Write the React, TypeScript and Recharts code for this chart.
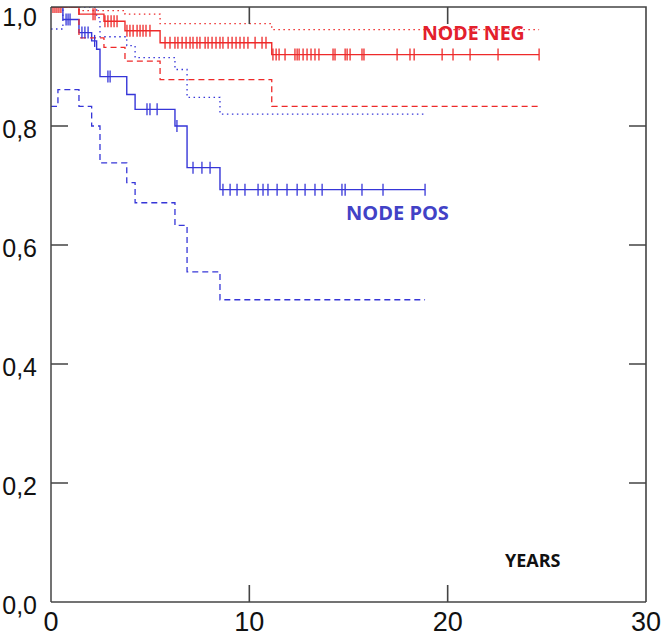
import { ComposedChart, Line, XAxis, YAxis } from 'recharts';

// Kaplan-Meier steps (years -> survival), solid = estimate, dotted = upper CI, dashed = lower CI
const negTime = [0, 1.41, 2.67, 3.73, 5.5, 11.13, 24.61];
const negSurv = [1.0, 0.988, 0.976, 0.96, 0.94, 0.92, 0.92];
const negUpper = [1.0, 0.994, 0.994, 0.988, 0.972, 0.962, 0.962];
const negLower = [1.0, 0.948, 0.932, 0.909, 0.878, 0.833, 0.833];

const posTime = [0, 0.35, 0.6, 1.41, 2.05, 2.3, 2.47, 3.82, 4.24, 6.25, 6.86, 8.52, 18.86];
const posSurv = [1.0, 1.0, 0.979, 0.957, 0.943, 0.929, 0.883, 0.853, 0.828, 0.8, 0.73, 0.693, 0.693];
const posUpper = [0.963, 0.963, 1.0, 1.0, 1.0, 0.982, 0.95, 0.935, 0.915, 0.895, 0.848, 0.82, 0.82];
const posLower = [0.833, 0.861, 0.861, 0.833, 0.8, 0.8, 0.738, 0.705, 0.671, 0.633, 0.555, 0.508, 0.508];

// censored observations, grouped by the survival level they sit on
const negCensorLevels = [1.0, 0.988, 0.976, 0.96, 0.94, 0.92];
const negCensorTimes = [
    [0.1, 0.2, 0.3, 0.4, 0.5],
    [2.12, 2.22],
    [2.72, 2.87, 3.03, 3.18, 3.33],
    [3.83, 3.98, 4.14, 4.34, 4.49, 4.64, 4.79, 4.99],
    [5.75, 6.0, 6.25, 6.4, 6.61, 6.81, 7.01, 7.16, 7.36, 7.51, 7.77, 7.92, 8.12, 8.32, 8.52, 8.67, 8.93, 9.13, 9.33, 9.53, 9.73, 9.93, 10.29, 10.64, 10.84],
    [11.19, 11.35, 11.5, 11.8, 12.3, 12.41, 12.51, 12.71, 12.91, 13.11, 13.31, 13.51, 14.22, 14.32, 14.83, 14.93, 15.08, 15.68, 15.78, 17.45, 18.1, 18.31, 19.72, 20.27, 21.13, 22.54, 24.61]
];
const posCensorLevels = [0.979, 0.957, 0.943, 0.883, 0.828, 0.8, 0.73, 0.693];
const posCensorTimes = [
    [0.76, 0.86, 0.96],
    [1.56, 1.71, 1.87],
    [2.2],
    [2.87, 2.98],
    [4.84, 4.99, 5.35],
    [6.35],
    [7.16, 7.61, 8.02],
    [8.67, 9.03, 9.38, 9.78, 10.44, 10.69, 10.94, 11.4, 11.9, 12.41, 12.81, 13.31, 13.67, 14.67, 14.83, 15.68, 16.74, 18.86]
];

const xTicks = [0, 10, 20, 30];
const yTicks = [0, 0.2, 0.4, 0.6, 0.8, 1.0];
const xInner = [10, 20];
const yInner = [0.2, 0.4, 0.6, 0.8];

const RED = '#ee2a2a';
const BLUE = '#3636d8';
const AXIS = '#444444';

const W = 661;
const H = 635;
const PLOT_LEFT = 51;
const PLOT_RIGHT = 646;
const PLOT_TOP = 7;
const X_AXIS_H = 33;
const PLOT_BOTTOM = H - X_AXIS_H;
const TICK = 17;

const negData = negTime.map((t, i) => ({ t, s: negSurv[i], hi: negUpper[i], lo: negLower[i] }));
const posData = posTime.map((t, i) => ({ t, s: posSurv[i], hi: posUpper[i], lo: posLower[i] }));
const negCensor = negCensorLevels.flatMap((s, i) => negCensorTimes[i].map((t) => ({ t, s })));
const posCensor = posCensorLevels.flatMap((s, i) => posCensorTimes[i].map((t) => ({ t, s })));

const censorDot = (color: string) => (props: any) => (
    <line
        key={props.index}
        x1={props.cx}
        x2={props.cx}
        y1={props.cy - 6}
        y2={props.cy + 6}
        stroke={color}
        strokeWidth={1.3}
    />
);

// frame furniture: top/right border and the inward ticks on all four sides
const px = (v: number) => PLOT_LEFT + (v / 30) * (PLOT_RIGHT - PLOT_LEFT);
const py = (v: number) => PLOT_BOTTOM - v * (PLOT_BOTTOM - PLOT_TOP);

const framePath = [
    `M${PLOT_LEFT},${PLOT_TOP} H${PLOT_RIGHT} V${PLOT_BOTTOM}`,
    ...xInner.map((v) => `M${px(v)},${PLOT_BOTTOM} v${-TICK}`),
    ...xInner.map((v) => `M${px(v)},${PLOT_TOP} v${TICK}`),
    ...yInner.map((v) => `M${PLOT_LEFT},${py(v)} h${TICK}`),
    ...yInner.map((v) => `M${PLOT_RIGHT},${py(v)} h${-TICK}`)
].join(' ');

const Frame = () => (
    <svg width={W} height={H} style={{ position: 'absolute', left: 0, top: 0, pointerEvents: 'none', zIndex: 2 }}>
        <path d={framePath} stroke={AXIS} strokeWidth={1.6} fill="none" />
    </svg>
);

const labelStyle = {
    position: 'absolute' as const,
    fontFamily: "'Open Sans', sans-serif",
    fontWeight: 700,
    whiteSpace: 'nowrap' as const,
    lineHeight: 1,
    zIndex: 3
};

const axisLine = { stroke: AXIS, strokeWidth: 1.5 };
const tickFont = "'Liberation Sans', Arial, sans-serif";

export default function App() {
    return (
        <div style={{ position: 'absolute', left: 0, top: 0, width: W, height: H, background: '#fff' }}>
            <ComposedChart width={W} height={H} margin={{ top: PLOT_TOP, right: W - PLOT_RIGHT, bottom: 0, left: 0 }}>
                <XAxis
                    dataKey="t"
                    type="number"
                    domain={[0, 30]}
                    ticks={xTicks}
                    height={X_AXIS_H}
                    axisLine={axisLine}
                    tickLine={false}
                    tickSize={0}
                    tickMargin={10}
                    tick={{ fontSize: 27, fill: '#111', fontFamily: tickFont }}
                    allowDataOverflow
                />
                <YAxis
                    type="number"
                    domain={[0, 1]}
                    ticks={yTicks}
                    width={PLOT_LEFT}
                    axisLine={axisLine}
                    tickLine={false}
                    tickSize={0}
                    tickMargin={14}
                    tickFormatter={(v: number) => v.toFixed(1).replace('.', ',')}
                    tick={{ fontSize: 25, fill: '#111', fontFamily: tickFont, dy: 3 }}
                    allowDataOverflow
                />

                <Line data={posData} dataKey="hi" type="stepAfter" stroke={BLUE} strokeWidth={1.3} strokeDasharray="1.5 3.5" dot={false} isAnimationActive={false} />
                <Line data={posData} dataKey="lo" type="stepAfter" stroke={BLUE} strokeWidth={1.3} strokeDasharray="6 4" dot={false} isAnimationActive={false} />
                <Line data={posData} dataKey="s" type="stepAfter" stroke={BLUE} strokeWidth={1.4} dot={false} isAnimationActive={false} />
                <Line data={posCensor} dataKey="s" stroke="none" dot={censorDot(BLUE)} activeDot={false} isAnimationActive={false} />

                <Line data={negData} dataKey="hi" type="stepAfter" stroke={RED} strokeWidth={1.3} strokeDasharray="1.5 3.5" dot={false} isAnimationActive={false} />
                <Line data={negData} dataKey="lo" type="stepAfter" stroke={RED} strokeWidth={1.3} strokeDasharray="6 4" dot={false} isAnimationActive={false} />
                <Line data={negData} dataKey="s" type="stepAfter" stroke={RED} strokeWidth={1.4} dot={false} isAnimationActive={false} />
                <Line data={negCensor} dataKey="s" stroke="none" dot={censorDot(RED)} activeDot={false} isAnimationActive={false} />
            </ComposedChart>

            <Frame />

            <div style={{ ...labelStyle, left: 422, top: 23, fontSize: 19.5, color: '#e3202c' }}>NODE NEG</div>
            <div style={{ ...labelStyle, left: 346, top: 203, fontSize: 20, color: '#4242c6' }}>NODE POS</div>
            <div style={{ ...labelStyle, left: 505, top: 551, fontSize: 18, color: '#111' }}>YEARS</div>
        </div>
    );
}
